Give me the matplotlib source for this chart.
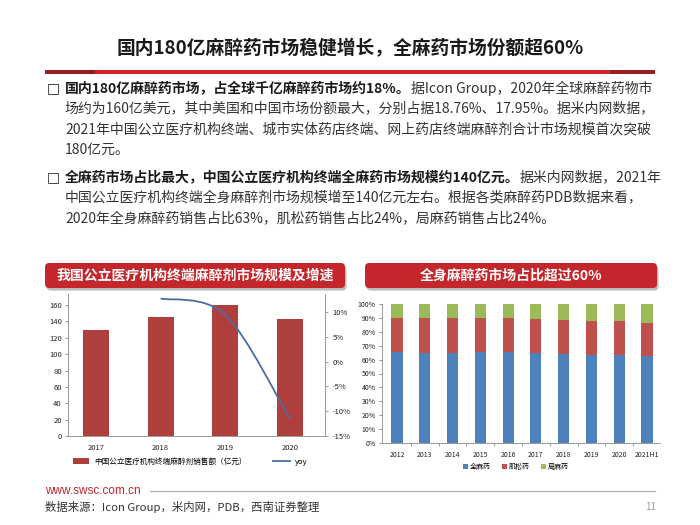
import numpy as np
import matplotlib.pyplot as plt
from matplotlib.patches import FancyBboxPatch, Rectangle, PathPatch, Patch
from matplotlib.path import Path
from matplotlib.lines import Line2D
from matplotlib.text import Annotation

plt.rcParams['font.family'] = ['Noto Sans CJK SC', 'DejaVu Sans']

# left chart data
years_l = ['2017', '2018', '2019', '2020']
sales = [130, 145.5, 160, 142.5]            # 亿元
yoy = [np.nan, 12.7, 9.4, -11.6]            # %

# right chart data
years_r = ['2012', '2013', '2014', '2015', '2016', '2017', '2018', '2019', '2020', '2021H1']
general = [65.3, 65.0, 65.0, 65.3, 65.3, 65.0, 63.8, 63.1, 63.5, 62.8]
muscle = [24.3, 24.6, 24.6, 24.7, 24.3, 24.1, 24.9, 24.6, 24.2, 23.7]
local = [10.4, 10.4, 10.4, 10.0, 10.4, 10.9, 11.3, 12.3, 12.3, 13.5]
legend_r = ['全麻药', '肌松药', '局麻药']

W, H = 700, 525
fig = plt.figure(figsize=(7, 5.25), dpi=100)


def fx(x):
    return x / W


def fy(y):
    return 1 - y / H


def axes_px(left, top, right, bottom):
    return fig.add_axes([fx(left), fy(bottom), (right - left) / W, (bottom - top) / H])


# ---- title and red bar
fig.text(fx(350), fy(49), '国内180亿麻醉药市场稳健增长，全麻药市场份额超60%',
         ha='center', va='center', fontsize=13.5, fontweight='bold', color='#1a1a1a')
fig.patches.append(Rectangle((fx(45), fy(74)), fx(610), 4.5 / H, transform=fig.transFigure,
                             facecolor='#D0242B', edgecolor='none'))
fig.patches.append(Rectangle((fx(45), fy(74)), fx(50), 4.5 / H, transform=fig.transFigure,
                             facecolor='#9A1C20', edgecolor='none'))
fig.patches.append(Rectangle((fx(610), fy(74)), fx(45), 4.5 / H, transform=fig.transFigure,
                             facecolor='#9A1C20', edgecolor='none'))

# ---- bullet text
body_fs = 10
bold_col = '#1a1a1a'
norm_col = '#333333'


def line(y, parts, bullet=False):
    if bullet:
        fig.text(fx(47), fy(y), '□', fontsize=10, va='center', ha='left',
                 color='#222222', family=['DejaVu Sans'])
    last = None
    for txt, bold in parts:
        kw = dict(fontsize=body_fs, va='center', fontweight='bold' if bold else 'normal',
                  color=bold_col if bold else norm_col)
        if last is None:
            last = fig.text(fx(65), fy(y), txt, ha='left', **kw)
        else:
            last = fig.add_artist(Annotation(txt, xy=(1, 0.5), xycoords=last, ha='left', **kw))


line(88, [('国内180亿麻醉药市场，占全球千亿麻醉药市场约18%。', True),
          ('据Icon Group，2020年全球麻醉药物市', False)], bullet=True)
line(108.5, [('场约为160亿美元，其中美国和中国市场份额最大，分别占据18.76%、17.95%。据米内网数据，', False)])
line(129, [('2021年中国公立医疗机构终端、城市实体药店终端、网上药店终端麻醉剂合计市场规模首次突破', False)])
line(149.5, [('180亿元。', False)])
line(177, [('全麻药市场占比最大，中国公立医疗机构终端全麻药市场规模约140亿元。', True),
           ('据米内网数据，2021年', False)], bullet=True)
line(197.5, [('中国公立医疗机构终端全身麻醉剂市场规模增至140亿元左右。根据各类麻醉药PDB数据来看，', False)])
line(218, [('2020年全身麻醉药销售占比63%，肌松药销售占比24%，局麻药销售占比24%。', False)])


# ---- chart headers
def header(x0, x1, text):
    shadow = FancyBboxPatch((fx(x0 + 1.5), fy(290.5)), fx(x1 - x0), 25 / H,
                            boxstyle='round,pad=0,rounding_size=0.006',
                            transform=fig.transFigure, facecolor='#bbbbbb',
                            edgecolor='none', mutation_aspect=W / H)
    box = FancyBboxPatch((fx(x0), fy(288)), fx(x1 - x0), 25 / H,
                         boxstyle='round,pad=0,rounding_size=0.006',
                         transform=fig.transFigure, facecolor='#C3272B',
                         edgecolor='none', mutation_aspect=W / H)
    fig.patches.append(shadow)
    fig.patches.append(box)
    fig.text(fx((x0 + x1) / 2), fy(275.5), text, ha='center', va='center',
             fontsize=10, fontweight='bold', color='white')


header(45, 345, '我国公立医疗机构终端麻醉剂市场规模及增速')
header(365, 657, '全身麻醉药市场占比超过60%')

# ---- left chart
ax = axes_px(68, 294, 325, 436)
x = np.arange(len(years_l))
ax.bar(x, sales, width=0.4, color='#AE3F3C', zorder=2)
ax.set_xlim(-0.43, 3.54)
ax.set_ylim(0, 173.5)
ax.set_yticks(np.arange(0, 161, 20))
ax.set_xticks(x)
ax.set_xticklabels(years_l)
ax.tick_params(axis='x', length=0, labelsize=5.5, pad=6, colors='#222222')
ax.tick_params(axis='y', length=2.5, width=0.6, labelsize=5.5, colors='#222222', color='#888888', pad=2)
for s in ['top', 'right']:
    ax.spines[s].set_visible(False)
for s in ['left', 'bottom']:
    ax.spines[s].set_color('#999999')
    ax.spines[s].set_linewidth(0.7)

ax2 = ax.twinx()
ax2.set_ylim(-15, 13.6)
ax2.set_yticks([-15, -10, -5, 0, 5, 10])
ax2.set_yticklabels(['%d%%' % v for v in [-15, -10, -5, 0, 5, 10]])
ax2.tick_params(axis='y', length=2.5, width=0.6, labelsize=5.5, colors='#222222', color='#888888', pad=3)
for s in ['top', 'left', 'bottom']:
    ax2.spines[s].set_visible(False)
ax2.spines['right'].set_color('#999999')
ax2.spines['right'].set_linewidth(0.7)

# smoothed yoy line (Catmull-Rom style bezier through the data points)
pts = [(xi, yi) for xi, yi in zip(x, yoy) if not np.isnan(yi)]
pts = np.array(pts, dtype=float)
verts = [pts[0]]
codes = [Path.MOVETO]
for i in range(len(pts) - 1):
    p0 = pts[i - 1] if i > 0 else pts[i]
    p1, p2 = pts[i], pts[i + 1]
    p3 = pts[i + 2] if i + 2 < len(pts) else pts[i + 1]
    verts += [p1 + (p2 - p0) / 6, p2 - (p3 - p1) / 6, p2]
    codes += [Path.CURVE4] * 3
ax2.add_patch(PathPatch(Path(verts, codes), facecolor='none', edgecolor='#4A6F9E',
                        linewidth=1.3, zorder=3))

handles = [Patch(facecolor='#AE3F3C'), Line2D([], [], color='#4A6F9E', lw=1.3)]
fig.legend(handles, ['中国公立医疗机构终端麻醉剂销售额（亿元）', 'yoy'], ncol=2,
           loc='center', bbox_to_anchor=(fx(190), fy(462)), frameon=False,
           fontsize=5.5, handlelength=2.2, handleheight=0.8, columnspacing=3.5,
           handletextpad=0.6)

# ---- right chart
bx = axes_px(382, 304, 660, 443)
xr = np.arange(len(years_r))
cols = ['#4F81BD', '#C0504D', '#9BBB59']
bottom = np.zeros(len(years_r))
for vals, c, lab in zip([general, muscle, local], cols, legend_r):
    bx.bar(xr, vals, bottom=bottom, width=0.4, color=c, label=lab, zorder=2)
    bottom = bottom + np.array(vals)
bx.set_xlim(-0.54, 9.47)
bx.set_ylim(0, 100)
bx.set_yticks(np.arange(0, 101, 10))
bx.set_yticklabels(['%d%%' % v for v in range(0, 101, 10)])
bx.set_xticks(xr)
bx.set_xticklabels(years_r)
bx.set_xticks(np.arange(0.5, 9, 1), minor=True)
bx.tick_params(axis='x', which='major', length=0, labelsize=5, pad=6, colors='#222222')
bx.tick_params(axis='x', which='minor', length=2.5, width=0.6, color='#888888')
bx.tick_params(axis='y', length=2.5, width=0.6, labelsize=5, colors='#222222', color='#888888', pad=2)
for s in ['top', 'right']:
    bx.spines[s].set_visible(False)
for s in ['left', 'bottom']:
    bx.spines[s].set_color('#999999')
    bx.spines[s].set_linewidth(0.7)
fig.legend(*bx.get_legend_handles_labels(), ncol=3, loc='center',
           bbox_to_anchor=(fx(516), fy(467)), frameon=False, fontsize=5,
           handlelength=0.7, handleheight=0.7, columnspacing=1.6, handletextpad=0.3)

# ---- footer
fig.text(fx(45), fy(491), 'www.swsc.com.cn', ha='left', va='center', fontsize=8.5,
         color='#C0282D', family=['Liberation Sans'])
fig.add_artist(Line2D([fx(150), fx(655)], [fy(491), fy(491)], color='#aaaaaa', lw=0.8))
fig.text(fx(45), fy(507), '数据来源：Icon Group，米内网，PDB，西南证券整理', ha='left', va='center',
         fontsize=8.2, color='#333333', style='italic')
fig.text(fx(656), fy(507), '11', ha='right', va='center', fontsize=7, color='#999999')

fig.savefig('out.png', dpi=100)
